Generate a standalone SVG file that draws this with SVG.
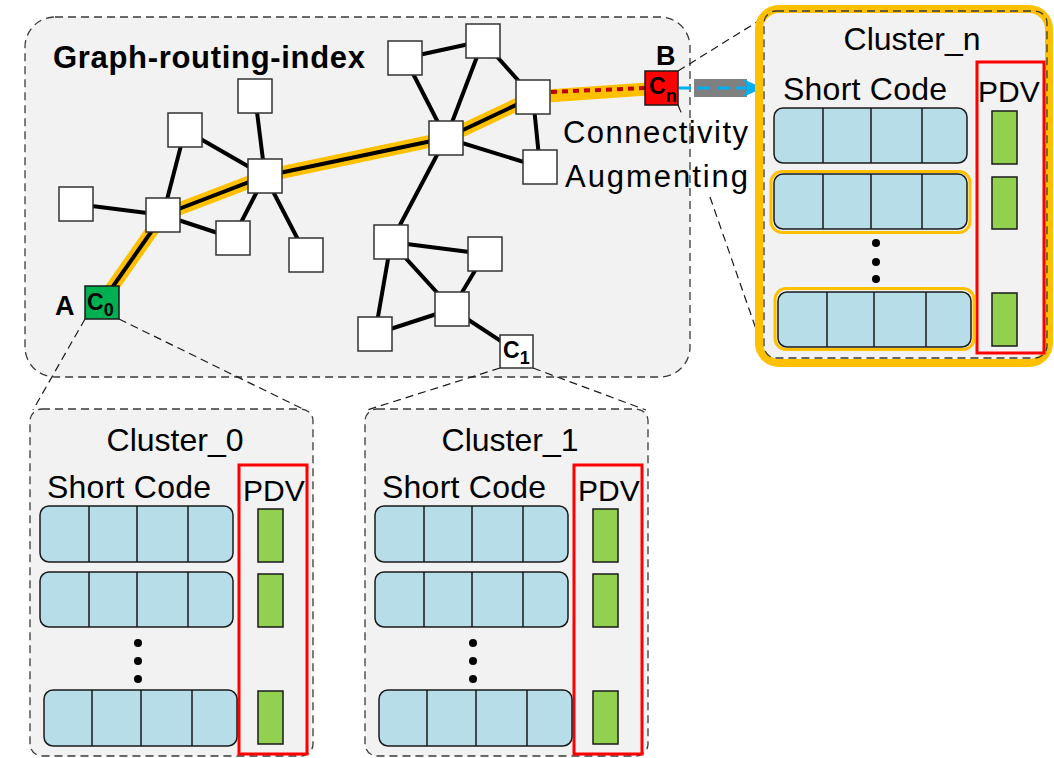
<svg xmlns="http://www.w3.org/2000/svg" width="1054" height="758" viewBox="0 0 1054 758">
<defs>
<style>
.box{fill:#f2f2f2;stroke:#3a3a3a;stroke-width:1.3;stroke-dasharray:8 5}
.node{fill:#fff;stroke:#333;stroke-width:1.5}
.edge{stroke:#000;stroke-width:4;fill:none;stroke-linecap:butt}
.hl{stroke:#FFC000;stroke-width:13;fill:none;stroke-linejoin:round}
.row{fill:#B7DEE8;stroke:#1a1a1a;stroke-width:1.5}
.div{stroke:#1a1a1a;stroke-width:1.5}
.bar{fill:#92D050;stroke:#1a1a1a;stroke-width:1.5}
.pdv{fill:none;stroke:#FF0000;stroke-width:3}
.zl{stroke:#1a1a1a;stroke-width:1.2;stroke-dasharray:8 5;fill:none}
.t{font-family:"Liberation Sans",Arial,sans-serif;fill:#000}
.b{font-family:"Liberation Sans",Arial,sans-serif;font-weight:bold;fill:#000}
.ysel{fill:none;stroke:#FFC000;stroke-width:3}
</style>
<marker id="ah" markerWidth="20" markerHeight="20" refX="18" refY="10" orient="auto" markerUnits="userSpaceOnUse" viewBox="0 0 20 20">
<path d="M0,1 L20,10 L0,19 L5,10 Z" fill="#00B0F0"/>
</marker>
</defs>

<g id="graph-routing-index">
<rect class="box" x="25" y="17" width="665" height="360" rx="30"/>
<text class="b" x="53" y="68" font-size="31" textLength="312" lengthAdjust="spacing">Graph-routing-index</text>
</g>

<g id="connectors">
<polyline class="hl" points="102,302 163,215 265,176 446,138 533,97 662,88"/>
<line class="edge" x1="102" y1="302" x2="163" y2="215"/>
<line class="edge" x1="163" y1="215" x2="265" y2="176"/>
<line class="edge" x1="265" y1="176" x2="446" y2="138"/>
<line class="edge" x1="446" y1="138" x2="533" y2="97"/>
<line x1="551" y1="92" x2="645" y2="88" stroke="#C00000" stroke-width="4" stroke-dasharray="6 5"/>
<line class="edge" x1="163" y1="215" x2="76" y2="204"/>
<line class="edge" x1="163" y1="215" x2="185" y2="130"/>
<line class="edge" x1="163" y1="215" x2="233" y2="238"/>
<line class="edge" x1="185" y1="130" x2="265" y2="176"/>
<line class="edge" x1="255" y1="96" x2="265" y2="176"/>
<line class="edge" x1="265" y1="176" x2="233" y2="238"/>
<line class="edge" x1="265" y1="176" x2="306" y2="255"/>
<line class="edge" x1="405" y1="58" x2="483" y2="41"/>
<line class="edge" x1="405" y1="58" x2="446" y2="138"/>
<line class="edge" x1="483" y1="41" x2="446" y2="138"/>
<line class="edge" x1="483" y1="41" x2="533" y2="97"/>
<line class="edge" x1="533" y1="97" x2="540" y2="167"/>
<line class="edge" x1="446" y1="138" x2="540" y2="167"/>
<line class="edge" x1="446" y1="138" x2="391" y2="242"/>
<line class="edge" x1="391" y1="242" x2="485" y2="254"/>
<line class="edge" x1="391" y1="242" x2="375" y2="334"/>
<line class="edge" x1="391" y1="242" x2="452" y2="309"/>
<line class="edge" x1="485" y1="254" x2="452" y2="309"/>
<line class="edge" x1="452" y1="309" x2="375" y2="334"/>
<line class="edge" x1="452" y1="309" x2="516" y2="351"/>
<path class="zl" d="M85,319 L33,410 M119,319 L305,410"/>
<path class="zl" d="M500,368 L367,410 M533,368 L646,410"/>
<path class="zl" d="M678,71 L765,17 M678,105 L683,117 M710,197 L764,352"/>
<rect x="694" y="79" width="53" height="18" fill="#808080"/>
<line x1="679" y1="88" x2="761" y2="88" stroke="#00B0F0" stroke-width="3" stroke-dasharray="12 7" marker-end="url(#ah)"/>
</g>

<g id="node-n1"><rect class="node" x="238" y="79" width="34" height="34"/></g>
<g id="node-n2"><rect class="node" x="168" y="113" width="34" height="34"/></g>
<g id="node-n3"><rect class="node" x="59" y="187" width="34" height="34"/></g>
<g id="node-h1"><rect class="node" x="146" y="198" width="34" height="34"/></g>
<g id="node-h2"><rect class="node" x="248" y="159" width="34" height="34"/></g>
<g id="node-n4"><rect class="node" x="216" y="221" width="34" height="34"/></g>
<g id="node-n5"><rect class="node" x="289" y="238" width="34" height="34"/></g>
<g id="node-n6"><rect class="node" x="388" y="41" width="34" height="34"/></g>
<g id="node-n7"><rect class="node" x="466" y="24" width="34" height="34"/></g>
<g id="node-n8"><rect class="node" x="516" y="80" width="34" height="34"/></g>
<g id="node-h3"><rect class="node" x="429" y="121" width="34" height="34"/></g>
<g id="node-n9"><rect class="node" x="523" y="150" width="34" height="34"/></g>
<g id="node-n10"><rect class="node" x="374" y="225" width="34" height="34"/></g>
<g id="node-n11"><rect class="node" x="468" y="237" width="34" height="34"/></g>
<g id="node-n12"><rect class="node" x="435" y="292" width="34" height="34"/></g>
<g id="node-n13"><rect class="node" x="358" y="317" width="34" height="34"/></g>

<g id="node-c0">
<rect x="85" y="286" width="34" height="33" fill="#00B050" stroke="#1a1a1a" stroke-width="1.5"/>
<text class="b" x="87" y="310" font-size="23">C<tspan font-size="18" dy="6">0</tspan></text>
<text class="b" x="55" y="315" font-size="27">A</text>
</g>
<g id="node-c1">
<rect class="node" x="500" y="335" width="33" height="33"/>
<text class="b" x="503" y="358" font-size="23">C<tspan font-size="18" dy="6">1</tspan></text>
</g>
<g id="node-cn">
<rect x="645" y="71" width="33" height="34" fill="#FF0000" stroke="#1a1a1a" stroke-width="1.5"/>
<text class="b" x="649" y="94" font-size="23">C<tspan font-size="18" dy="8">n</tspan></text>
<text class="b" x="656" y="65" font-size="27">B</text>
</g>

<g id="label-connectivity">
<text class="t" x="563" y="143" font-size="31" textLength="185" lengthAdjust="spacing">Connectivity</text>
<text class="t" x="565" y="187" font-size="31" textLength="183" lengthAdjust="spacing">Augmenting</text>
</g>

<g id="cluster-0" transform="translate(30,409)">
<rect class="box" x="0" y="0" width="283" height="347" rx="12"/>
<text class="t" x="145" y="42" font-size="32" text-anchor="middle">Cluster_0</text>
<text class="t" x="17" y="89" font-size="32" textLength="164" lengthAdjust="spacing">Short Code</text>
<rect class="pdv" x="209" y="56" width="68" height="289"/>
<text class="t" x="213" y="92" font-size="30">PDV</text>
<rect class="row" x="10" y="97" width="193" height="56" rx="9"/>
<path class="div" d="M59,97V153M107,97V153M158,97V153"/>
<rect class="row" x="10" y="163" width="193" height="55" rx="9"/>
<path class="div" d="M59,163V218M107,163V218M158,163V218"/>
<circle cx="108" cy="234" r="4"/><circle cx="108" cy="252" r="4"/><circle cx="108" cy="270" r="4"/>
<rect class="row" x="14" y="281" width="193" height="56" rx="9"/>
<path class="div" d="M62,281V337M111,281V337M162,281V337"/>
<rect class="bar" x="228" y="100" width="25" height="53"/>
<rect class="bar" x="228" y="165" width="25" height="53"/>
<rect class="bar" x="228" y="282" width="25" height="53"/>
</g>

<g id="cluster-1" transform="translate(365,409)">
<rect class="box" x="0" y="0" width="283" height="347" rx="12"/>
<text class="t" x="145" y="42" font-size="32" text-anchor="middle">Cluster_1</text>
<text class="t" x="17" y="89" font-size="32" textLength="164" lengthAdjust="spacing">Short Code</text>
<rect class="pdv" x="209" y="56" width="68" height="289"/>
<text class="t" x="213" y="92" font-size="30">PDV</text>
<rect class="row" x="10" y="97" width="193" height="56" rx="9"/>
<path class="div" d="M59,97V153M107,97V153M158,97V153"/>
<rect class="row" x="10" y="163" width="193" height="55" rx="9"/>
<path class="div" d="M59,163V218M107,163V218M158,163V218"/>
<circle cx="108" cy="234" r="4"/><circle cx="108" cy="252" r="4"/><circle cx="108" cy="270" r="4"/>
<rect class="row" x="14" y="281" width="193" height="56" rx="9"/>
<path class="div" d="M62,281V337M111,281V337M162,281V337"/>
<rect class="bar" x="228" y="100" width="25" height="53"/>
<rect class="bar" x="228" y="165" width="25" height="53"/>
<rect class="bar" x="228" y="282" width="25" height="53"/>
</g>

<g id="cluster-n">
<rect x="759" y="9" width="290" height="354" rx="20" fill="#f2f2f2" stroke="#FFC000" stroke-width="8"/>
<g transform="translate(764,11)">
<rect class="box" x="0" y="0" width="283" height="347" rx="12" style="fill:none"/>
<text class="t" x="148" y="39" font-size="32" text-anchor="middle">Cluster_n</text>
<text class="t" x="19" y="89" font-size="32" textLength="164" lengthAdjust="spacing">Short Code</text>
<rect class="pdv" x="213" y="51" width="67" height="291"/>
<text class="t" x="214" y="91" font-size="30">PDV</text>
<rect class="row" x="10" y="97" width="193" height="55" rx="9"/>
<path class="div" d="M59,97V152M107,97V152M158,97V152"/>
<rect class="ysel" x="7" y="160.5" width="199" height="61" rx="11"/>
<rect class="row" x="10" y="163" width="193" height="55" rx="9"/>
<path class="div" d="M59,163V218M107,163V218M158,163V218"/>
<circle cx="112" cy="232" r="4"/><circle cx="112" cy="251" r="4"/><circle cx="112" cy="268" r="4"/>
<rect class="ysel" x="11" y="277.5" width="199" height="61" rx="11"/>
<rect class="row" x="14" y="281" width="193" height="55" rx="9"/>
<path class="div" d="M63,281V336M110,281V336M162,281V336"/>
<rect class="bar" x="228" y="100" width="25" height="53"/>
<rect class="bar" x="228" y="166" width="25" height="52"/>
<rect class="bar" x="228" y="282" width="25" height="53"/>
</g>
</g>
</svg>
